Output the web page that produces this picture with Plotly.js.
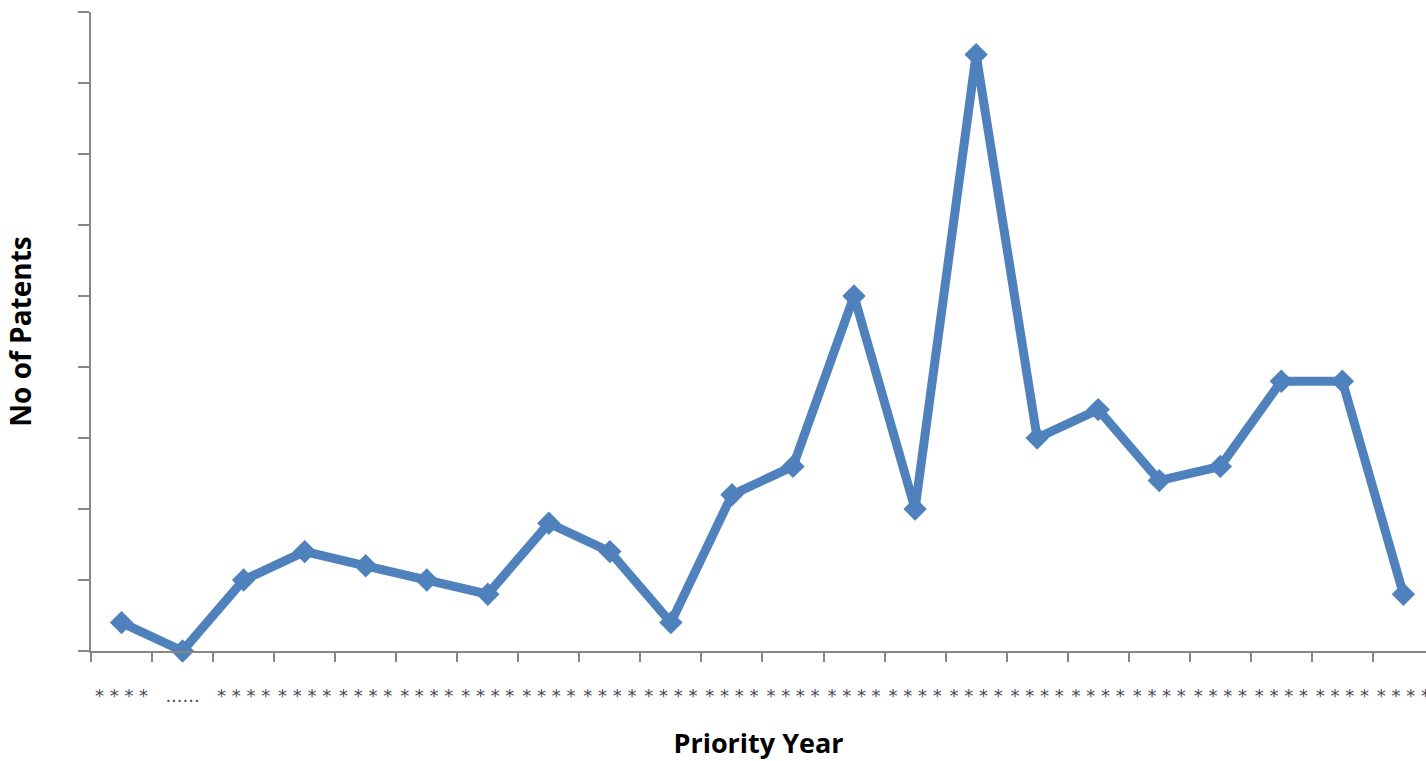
<!DOCTYPE html>
<html>
<head>
<meta charset="utf-8">
<script src="https://cdn.plot.ly/plotly-3.0.1.min.js"></script>
<style>
  html, body { margin: 0; padding: 0; background: #ffffff; }
  #chart { width: 1426px; height: 761px; }
</style>
</head>
<body>
<div id="chart"></div>
<script>
// Priority years (masked in the source picture)
const yearLabels = [
  "* * * *", "......", "* * * *", "* * * *", "* * * *", "* * * *", "* * * *", "* * * *",
  "* * * *", "* * * *", "* * * *", "* * * *", "* * * *", "* * * *", "* * * *", "* * * *",
  "* * * *", "* * * *", "* * * *", "* * * *", "* * * *", "* * * *"
];
// Number of patents per priority year
const patentCounts = [2, 0, 5, 7, 6, 5, 4, 9, 7, 2, 11, 13, 25, 10, 42, 15, 17, 12, 13, 19, 19, 4];
const xTitle = "Priority Year";
const yTitle = "No of Patents";

const catIndex = yearLabels.map((_, i) => i);

const trace = {
  type: "scatter",
  mode: "lines+markers",
  x: catIndex,
  y: patentCounts,
  line: { color: "#4F81BD", width: 9 },
  marker: { symbol: "diamond", size: 18, color: "#4F81BD" },
  cliponaxis: false,
  hoverinfo: "x+y"
};

const layout = {
  width: 1426,
  height: 761,
  margin: { l: 91, r: 0, t: 12, b: 110 },
  paper_bgcolor: "#ffffff",
  plot_bgcolor: "#ffffff",
  showlegend: false,
  font: { family: "DejaVu Sans, sans-serif", color: "#000000" },
  xaxis: {
    range: [-0.5, 21.37],
    tickmode: "array",
    tickvals: catIndex,
    ticktext: yearLabels,
    tickangle: 0,
    ticks: "",
    showgrid: false,
    zeroline: false,
    showline: true,
    linecolor: "#868686",
    linewidth: 2,
    tickfont: { family: "DejaVu Sans, sans-serif", size: 18, color: "#4a4a5a" },
    ticklabelstandoff: 27,
    ticklabeloverflow: "allow",
    automargin: false,
    title: {
      text: "<b>" + xTitle + "</b>",
      font: { family: "Open Sans, sans-serif", size: 27, color: "#000000" },
      standoff: 34
    }
  },
  xaxis2: {
    overlaying: "x",
    anchor: "y",
    side: "bottom",
    range: [-0.5, 21.37],
    tickmode: "linear",
    tick0: -0.5,
    dtick: 1,
    ticks: "outside",
    ticklen: 10,
    tickwidth: 2,
    tickcolor: "#868686",
    showticklabels: false,
    showgrid: false,
    zeroline: false,
    showline: false
  },
  yaxis: {
    range: [0, 45],
    tickmode: "linear",
    tick0: 0,
    dtick: 5,
    ticks: "outside",
    ticklen: 11,
    tickwidth: 2,
    tickcolor: "#868686",
    showticklabels: false,
    showgrid: false,
    zeroline: false,
    showline: true,
    linecolor: "#868686",
    linewidth: 2,
    automargin: false,
    title: {
      text: "<b>" + yTitle + "</b>",
      font: { family: "Open Sans, sans-serif", size: 28, color: "#000000" },
      standoff: 38
    }
  }
};

// invisible trace to activate the boundary tick axis
const tickTrace = {
  type: "scatter", mode: "markers", x: [0], y: [0], xaxis: "x2", yaxis: "y",
  marker: { opacity: 0 }, hoverinfo: "skip", showlegend: false
};

Plotly.newPlot("chart", [tickTrace, trace], layout, { displayModeBar: false, staticPlot: false });
</script>
</body>
</html>
